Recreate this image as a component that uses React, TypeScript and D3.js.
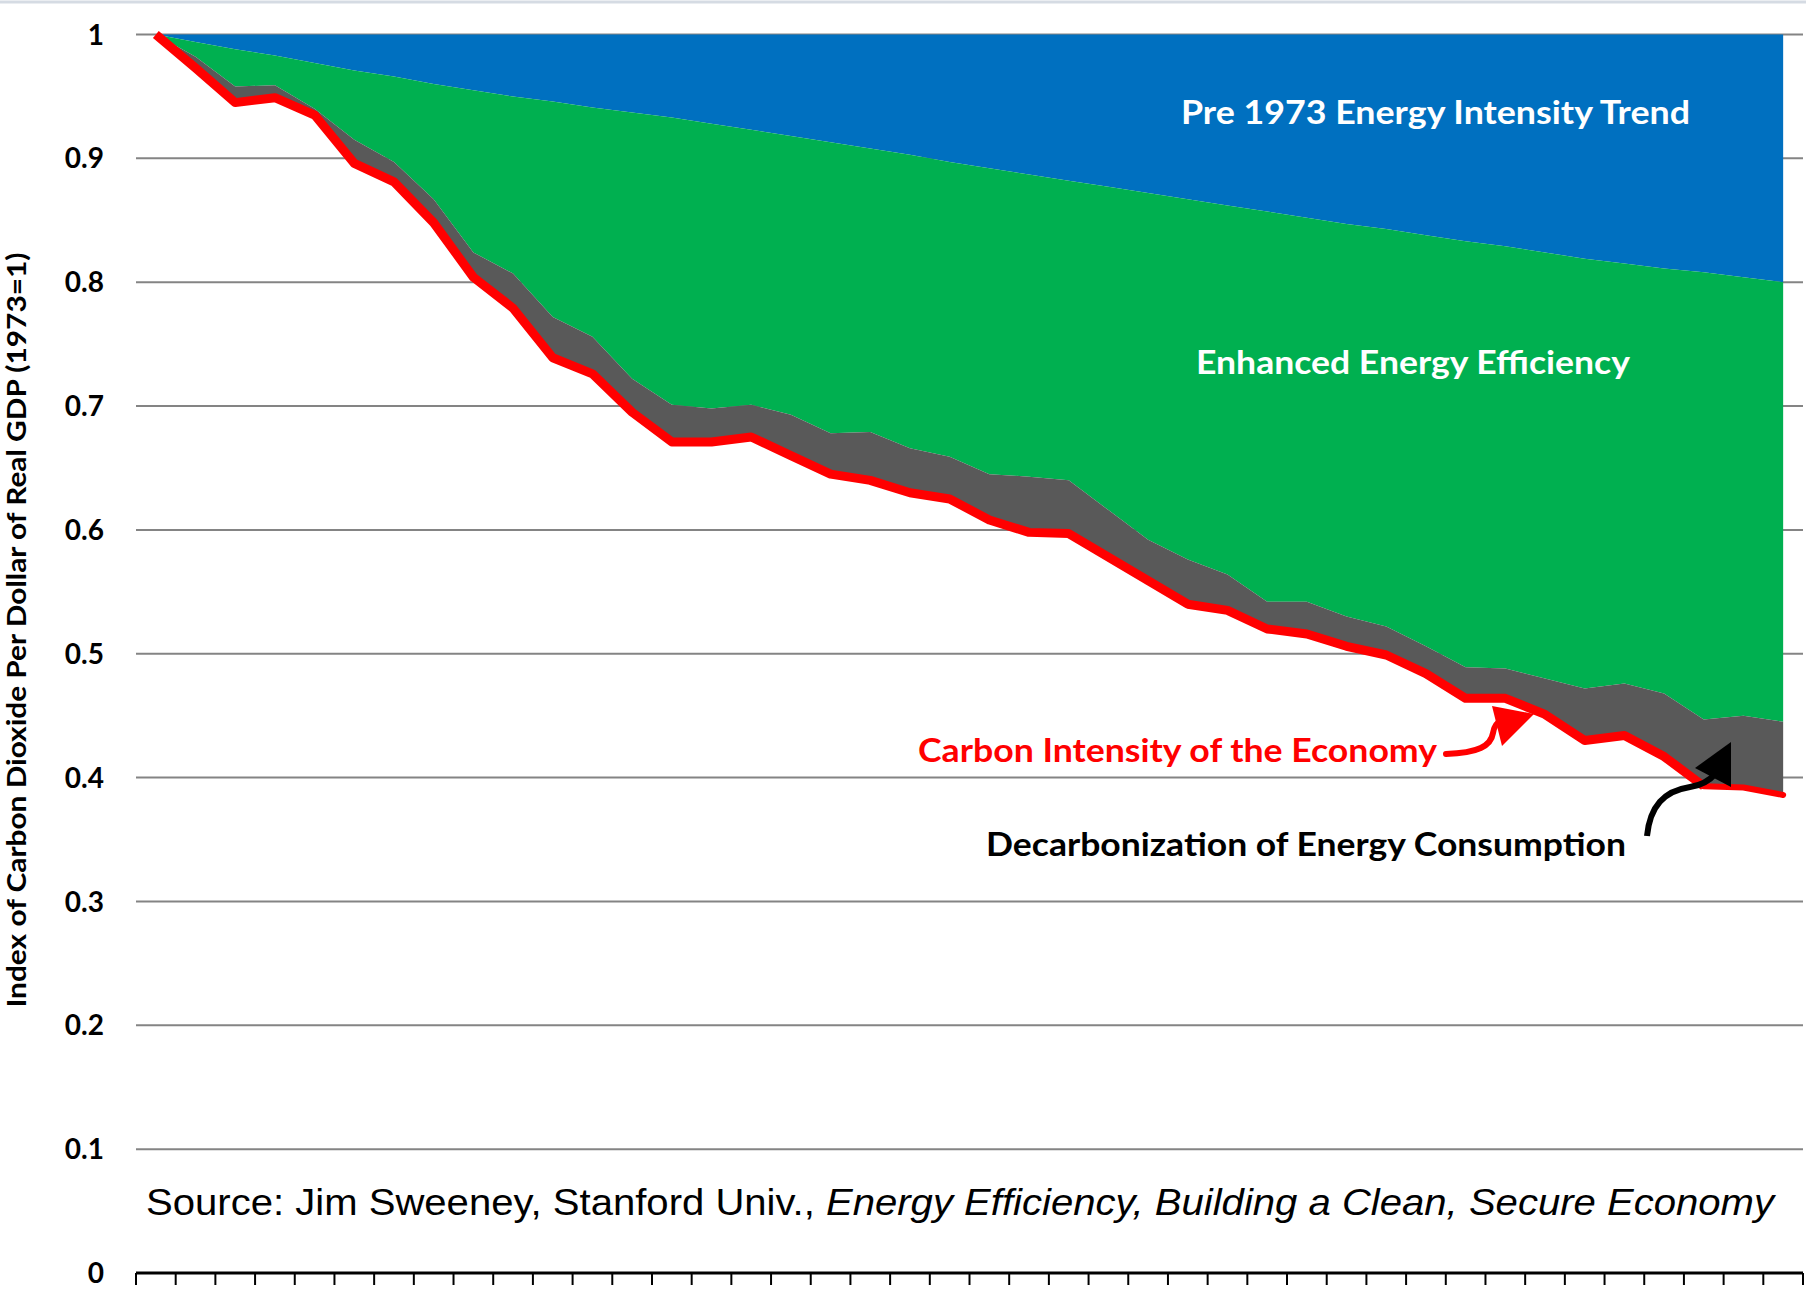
import React from "react";
import * as d3 from "d3";

// 42 yearly categories, 1973 = 1
const years = d3.range(1973, 2015);

// Pre 1973 energy intensity trend (top of green / bottom of blue)
const preTrend = [
  1.0, 0.994, 0.988, 0.983, 0.977, 0.971, 0.966, 0.96, 0.955, 0.95, 0.946,
  0.941, 0.937, 0.933, 0.928, 0.923, 0.918, 0.913, 0.908, 0.903, 0.897, 0.892,
  0.887, 0.882, 0.877, 0.872, 0.867, 0.862, 0.857, 0.852, 0.847, 0.843, 0.838,
  0.833, 0.829, 0.824, 0.819, 0.815, 0.811, 0.808, 0.804, 0.8,
];

// Actual energy intensity (top of grey)
const energyIntensity = [
  1.0, 0.982, 0.958, 0.959, 0.94, 0.915, 0.897, 0.867, 0.824, 0.807, 0.772,
  0.756, 0.722, 0.701, 0.698, 0.701, 0.693, 0.678, 0.679, 0.666, 0.659, 0.645,
  0.643, 0.64, 0.616, 0.592, 0.576, 0.564, 0.542, 0.542, 0.53, 0.522, 0.506,
  0.489, 0.488, 0.48, 0.472, 0.476, 0.468, 0.447, 0.45, 0.445,
];

// Carbon intensity of the economy (red line)
const carbonIntensity = [
  1.0, 0.973, 0.945, 0.949, 0.935, 0.896, 0.881, 0.848, 0.804, 0.779, 0.739,
  0.726, 0.695, 0.671, 0.671, 0.675, 0.66, 0.645, 0.64, 0.63, 0.625, 0.608,
  0.598, 0.597, 0.578, 0.559, 0.54, 0.535, 0.52, 0.516, 0.506, 0.499, 0.484,
  0.464, 0.464, 0.451, 0.43, 0.434, 0.417, 0.393, 0.392, 0.386,
];

const yTicks = [0, 0.1, 0.2, 0.3, 0.4, 0.5, 0.6, 0.7, 0.8, 0.9, 1];
const yTickLabels = ["0", "0.1", "0.2", "0.3", "0.4", "0.5", "0.6", "0.7", "0.8", "0.9", "1"];

const W = 1806;
const H = 1297;
const LABEL_FONT = "Lato, 'Open Sans', sans-serif";

export default function App() {
  const x = d3.scaleBand<number>().domain(years).range([136, 1803]);
  const y = d3.scaleLinear().domain([0, 1]).range([1273, 34.5]);
  const cx = (i: number) => (x(years[i]) as number) + x.bandwidth() / 2;

  const band = (lo: (i: number) => number, hi: (i: number) => number) =>
    d3
      .area<number>()
      .x((_, i) => cx(i))
      .y0((_, i) => y(lo(i)))
      .y1((_, i) => y(hi(i)))(years) as string;

  const greyPath = band((i) => carbonIntensity[i], (i) => energyIntensity[i]);
  const greenPath = band((i) => energyIntensity[i], (i) => preTrend[i]);
  const bluePath = band((i) => preTrend[i], () => 1);

  const redLine = d3
    .line<number>()
    .x((d) => cx(d))
    .y((d) => y(carbonIntensity[d]));
  const mainIdx = d3.range(0, 40);
  const tailIdx = d3.range(39, 42);

  const tickXs = years.map((yr) => x(yr) as number).concat([1803]);

  return (
    <svg
      width={W}
      height={H}
      style={{ position: "absolute", left: 0, top: 0, background: "#fff" }}
    >
      <rect width={W} height={H} fill="#fff" />
      <line x1={0} x2={W} y1={2} y2={2} stroke="#D5DBE3" strokeWidth={3} />

      {/* gridlines */}
      {yTicks.slice(1).map((t) => (
        <line
          key={t}
          x1={136}
          x2={1803}
          y1={y(t)}
          y2={y(t)}
          stroke="#848484"
          strokeWidth={2}
        />
      ))}

      {/* stacked areas */}
      <path d={bluePath} fill="#0070C0" />
      <path d={greenPath} fill="#00B050" />
      <path d={greyPath} fill="#595959" />

      {/* carbon intensity line */}
      <path
        d={redLine(mainIdx) as string}
        fill="none"
        stroke="#FF0000"
        strokeWidth={9}
        strokeLinejoin="round"
      />
      <path
        d={redLine(tailIdx) as string}
        fill="none"
        stroke="#FF0000"
        strokeWidth={6}
        strokeLinejoin="round"
        strokeLinecap="round"
      />

      {/* x axis */}
      <line x1={136} x2={1803} y1={1273} y2={1273} stroke="#000" strokeWidth={3} />
      {tickXs.map((tx, i) => (
        <line key={i} x1={tx} x2={tx} y1={1273} y2={1285} stroke="#000" strokeWidth={2} />
      ))}

      {/* y tick labels */}
      {yTicks.map((t, i) => (
        <text
          key={t}
          x={104}
          y={y(t)}
          dy="0.36em"
          textAnchor="end"
          fontFamily={LABEL_FONT}
          fontWeight={700}
          fontSize={28}
          fill="#000"
        >
          {yTickLabels[i]}
        </text>
      ))}

      {/* y axis title */}
      <text
        transform="translate(26,630) rotate(-90)"
        textAnchor="middle"
        fontFamily={LABEL_FONT}
        fontWeight={700}
        fontSize={26}
        textLength={755}
        lengthAdjust="spacingAndGlyphs"
        fill="#000"
      >
        Index of Carbon Dioxide Per Dollar of Real GDP (1973=1)
      </text>

      {/* area labels */}
      <text
        x={1181}
        y={124}
        fontFamily={LABEL_FONT}
        fontWeight={700}
        fontSize={33}
        textLength={509}
        lengthAdjust="spacingAndGlyphs"
        fill="#fff"
      >
        Pre 1973 Energy Intensity Trend
      </text>
      <text
        x={1196}
        y={374}
        fontFamily={LABEL_FONT}
        fontWeight={700}
        fontSize={33}
        textLength={434}
        lengthAdjust="spacingAndGlyphs"
        fill="#fff"
      >
        Enhanced Energy Efficiency
      </text>
      <text
        x={918}
        y={762}
        fontFamily={LABEL_FONT}
        fontWeight={700}
        fontSize={33}
        textLength={519}
        lengthAdjust="spacingAndGlyphs"
        fill="#FF0000"
      >
        Carbon Intensity of the Economy
      </text>
      <text
        x={986}
        y={856}
        fontFamily={LABEL_FONT}
        fontWeight={700}
        fontSize={33}
        textLength={640}
        lengthAdjust="spacingAndGlyphs"
        fill="#000"
      >
        Decarbonization of Energy Consumption
      </text>

      {/* red arrow */}
      <path
        d="M1446 754 C1478 753 1491 746 1493 733 C1494 726 1497 722 1503 720"
        fill="none"
        stroke="#FF0000"
        strokeWidth={6}
        strokeLinecap="round"
      />
      <polygon points="1492,706 1534,714 1502,746" fill="#FF0000" />

      {/* black arrow */}
      <path
        d="M1647 836 C1650 806 1664 791 1690 787 C1704 785 1711 779 1716 773"
        fill="none"
        stroke="#000"
        strokeWidth={6}
        strokeLinecap="butt"
      />
      <polygon points="1695,768 1731,742 1731,787" fill="#000" />

      {/* source */}
      <text
        x={146}
        y={1215}
        fontFamily="'Liberation Sans', Arial, sans-serif"
        fontSize={37}
        textLength={1628}
        lengthAdjust="spacingAndGlyphs"
        fill="#000"
      >
        Source: Jim Sweeney, Stanford Univ.,{" "}
        <tspan fontStyle="italic">
          Energy Efficiency, Building a Clean, Secure Economy
        </tspan>
      </text>
    </svg>
  );
}
